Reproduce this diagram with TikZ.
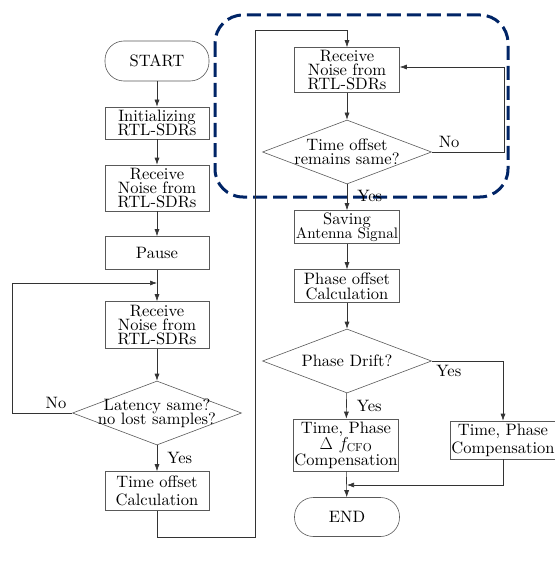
\documentclass[tikz,border=0pt]{standalone}
\usepackage{amsmath}
\usepackage{fontspec}
\setmainfont{lmroman10-regular.otf}
\usepackage{tikz}
\usetikzlibrary{arrows.meta}
\usetikzlibrary{shapes.geometric}
\definecolor{navy}{RGB}{0,36,102}
\newcommand{\flowfont}{\fontsize{16.5}{14}\selectfont\lineskiplimit=-20pt\relax}

\begin{document}
\begin{tikzpicture}[x=1pt,y=-1pt]
\tikzset{
    block/.style={
              rectangle,
                   draw=black!65,
                   line width=0.6pt,
                   minimum width=104pt,
                   inner sep=1pt,
                   align=center,
                   font=\flowfont
    },
    term/.style={
              block,
                   rounded corners=19pt
    },
    decision/.style={
              diamond,
                   draw=black!65,
                   line width=0.6pt,
                   inner sep=0pt,
                   minimum width=169pt,
                   minimum height=64pt
    },
    lbl/.style={
              align=center,
                   inner sep=0pt,
                   font=\flowfont
    },
    arr/.style={
              draw=black!80,
                   line width=0.6pt,
                   -{Latex[length=7pt,width=5pt]}
    }
}
    \useasboundingbox (0,0) rectangle (554,575);

    % left column
    \node (S)[term, minimum height=40pt] at (157,61) {START};
    \node (I)[block, minimum height=32pt] at (157,123) {Initializing\\RTL-SDRs};
    \node (R1)[block, minimum height=46pt] at (157,188) {Receive\\Noise from\\RTL-SDRs};
    \node (P)[block, minimum height=33pt] at (157,253) {Pause};
    \node (R2)[block, minimum height=47pt] at (157,325) {Receive\\Noise from\\RTL-SDRs};
    \node (D1)[decision, label={[lbl]center:{Latency same?\\no lost samples?}}] at (157,413) {};
    \node (T1)[block, minimum height=39pt] at (157,491) {Time offset\\[4pt]Calculation};

    % right column
    \node (R3)[block, minimum width=105pt, minimum height=45pt] at (347,70) {Receive\\Noise from\\RTL-SDRs};
    \node (D2)[decision, label={[lbl]center:{Time offset\\remains same?}}] at (347,152) {};
    \node (SA)[block, minimum width=105pt, minimum height=33pt] at (347,227) {Saving\\[-0.5pt]{\fontsize{15.2}{14}\selectfont Antenna Signal}};
    \node (PO)[block, minimum width=105pt, minimum height=33pt] at (347,286) {Phase offset\\[1pt]Calculation};
    \node (D3)[decision, label={[lbl]center:{Phase Drift?}}] at (347,361) {};
    \node (C1)[block, minimum width=105pt, minimum height=52pt] at (346,445) {Time, Phase\\[2pt]$\Delta\ f_{\mathrm{CFO}}$\\[2pt]Compensation};
    \node (C2)[block, minimum height=38pt] at (503,440) {Time, Phase\\[4pt]Compensation};
    \node (E)[term, minimum width=105pt, minimum height=39pt] at (347,517) {END};

    \coordinate (c1) at (157,283);
    \coordinate (m) at (347,485);

    \draw[navy, line width=3pt, dash pattern=on 14pt off 6pt, rounded corners=28pt] (215,15) rectangle (508,197);

    \draw[arr] (S) -- (I);
    \draw[arr] (I) -- (R1);
    \draw[arr] (R1) -- (P);
    \draw[arr] (P) -- (R2);
    \draw[arr] (R2) -- (D1);
    \draw[arr] (D1) -- node[lbl, right, xshift=10pt] {Yes} (T1);
    \draw[arr] (D1.west) -- node[lbl, above, pos=.27, yshift=4pt] {No} ++(-60,0) |- (c1);
    \draw[arr] (T1.south) -- ++(0,26) -| (255,30) -| (R3.north);

    \draw[arr] (R3) -- (D2);
    \draw[arr] (D2.east) -- node[lbl, above, pos=.24, yshift=4pt] {No} ++(72,0) |- ([yshift=3pt]R3.east);
    \draw[arr] (D2) -- node[lbl, right, xshift=10pt, pos=.45] {Yes} (SA);
    \draw[arr] (SA) -- (PO);
    \draw[arr] (PO) -- (D3);
    \draw[arr] (D3) -- node[lbl, right, xshift=10pt] {Yes} (C1);
    \draw[arr] (D3.east) -| node[lbl, below, pos=.12, yshift=-4pt] {Yes} (C2.north);
    \draw[arr] (C1) -- (E);
    \draw[arr] (C2.south) |- (m);

\end{tikzpicture}
\end{document}
